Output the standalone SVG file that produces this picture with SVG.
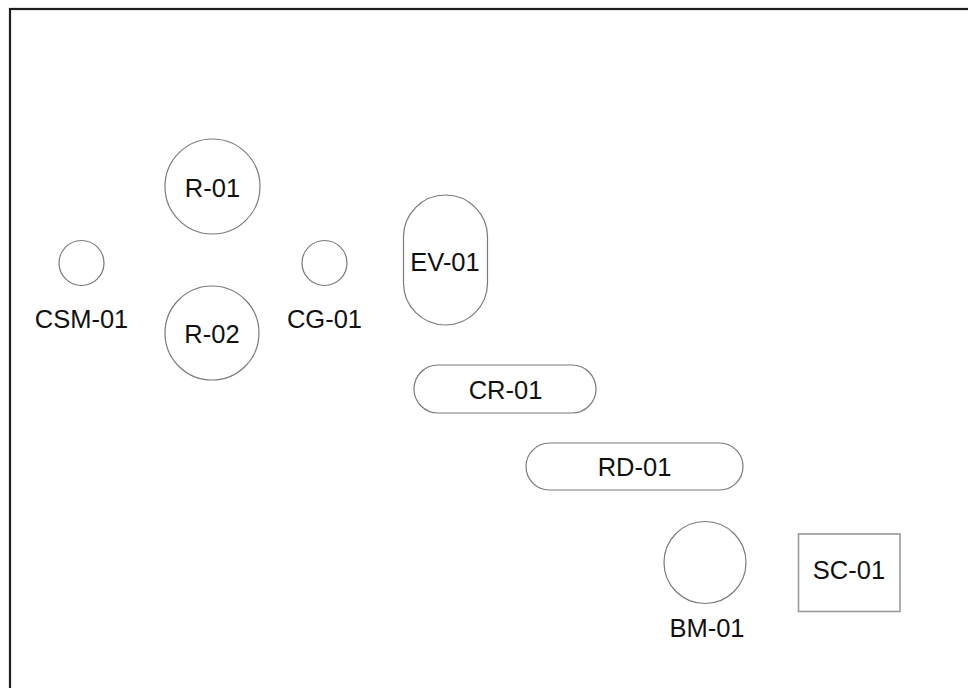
<svg xmlns="http://www.w3.org/2000/svg" width="968" height="688" viewBox="0 0 968 688">
  <style>
    .shape { fill: #ffffff; stroke: #7a7a7a; stroke-width: 1.2; }
    .box { fill: #ffffff; stroke: #9a9a9a; stroke-width: 1.6; }
    .label { font-family: "Liberation Sans", Arial, sans-serif; font-size: 25.5px; fill: #111111; text-anchor: middle; }
  </style>
  <rect x="0" y="0" width="968" height="688" fill="#ffffff"/>
  <rect x="10" y="9" width="1000" height="720" fill="none" stroke="#1e1e1e" stroke-width="2.2"/>
  <g id="connectors"></g>
  <g id="R-01">
    <circle class="shape" cx="212.5" cy="186.5" r="47.5"/>
    <text class="label" x="212.5" y="196.5">R-01</text>
  </g>
  <g id="R-02">
    <circle class="shape" cx="212" cy="333" r="47"/>
    <text class="label" x="212" y="343">R-02</text>
  </g>
  <g id="CSM-01">
    <circle class="shape" cx="81.5" cy="263" r="22.5"/>
    <text class="label" x="81.5" y="328">CSM-01</text>
  </g>
  <g id="CG-01">
    <circle class="shape" cx="324.5" cy="263" r="22.5"/>
    <text class="label" x="324.5" y="328">CG-01</text>
  </g>
  <g id="EV-01">
    <rect class="shape" x="403.5" y="195" width="84" height="130" rx="42" ry="42"/>
    <text class="label" x="445" y="271">EV-01</text>
  </g>
  <g id="CR-01">
    <rect class="shape" x="414" y="365" width="182" height="48" rx="24" ry="24"/>
    <text class="label" x="505.5" y="398.5">CR-01</text>
  </g>
  <g id="RD-01">
    <rect class="shape" x="526" y="443" width="217" height="47" rx="23.5" ry="23.5"/>
    <text class="label" x="634.5" y="476">RD-01</text>
  </g>
  <g id="BM-01">
    <circle class="shape" cx="705" cy="562.5" r="41"/>
    <text class="label" x="707" y="636.5">BM-01</text>
  </g>
  <g id="SC-01">
    <rect class="box" x="798.5" y="534" width="101.5" height="77.5"/>
    <text class="label" x="849" y="578.5">SC-01</text>
  </g>
</svg>
